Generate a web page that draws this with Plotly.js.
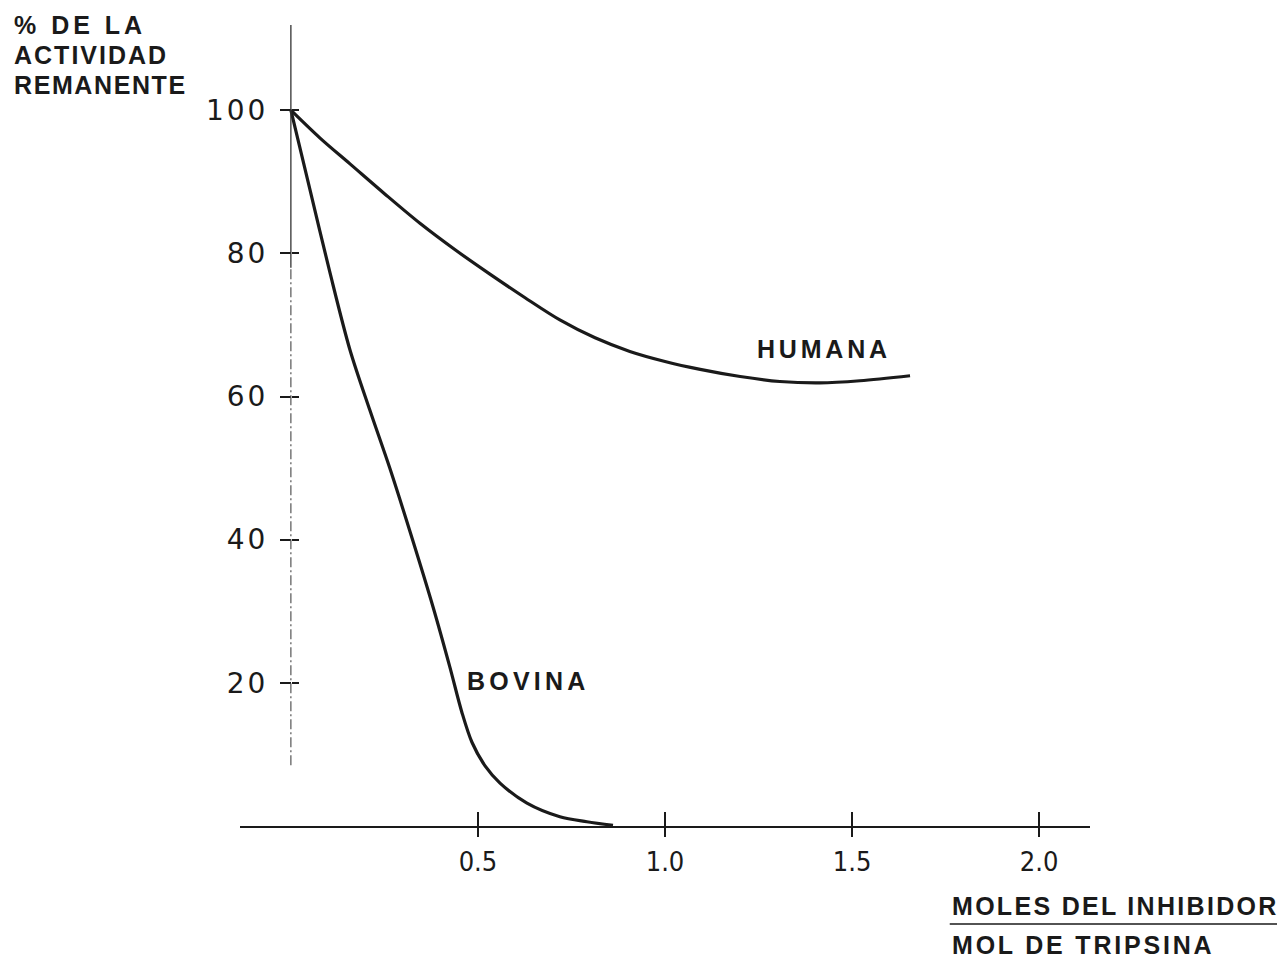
<!DOCTYPE html>
<html>
<head>
<meta charset="utf-8">
<script src="https://cdn.plot.ly/plotly-3.0.1.min.js"></script>
<style>
  html, body { margin: 0; padding: 0; background: #fff; }
  #chart { width: 1279px; height: 961px; }
  .ytick text { letter-spacing: 3px; }
</style>
</head>
<body>
<div id="chart"></div>
<script>
// Data
const humanaX = [0, 0.078, 0.158, 0.251, 0.345, 0.439, 0.532, 0.626, 0.719, 0.813, 0.906, 1.000, 1.094, 1.201, 1.307, 1.414, 1.521, 1.655];
const humanaY = [100, 96.1, 92.5, 88.3, 84.2, 80.5, 77.1, 73.8, 70.7, 68.2, 66.3, 64.9, 63.8, 62.8, 62.1, 61.9, 62.2, 62.9];

const bovinaX = [0, 0.051, 0.104, 0.158, 0.211, 0.265, 0.324, 0.380, 0.425, 0.457, 0.484, 0.519, 0.559, 0.631, 0.719, 0.791, 0.861];
const bovinaY = [100, 88.9, 77.4, 66.5, 58.1, 49.9, 40.2, 30.6, 22.2, 15.9, 11.7, 8.4, 6.0, 3.2, 1.3, 0.6, 0.1];

const xTickVals = [0.5, 1.0, 1.5, 2.0];
const xTickText = ["0.5", "1.0", "1.5", "2.0"];
const yTickVals = [20, 40, 60, 80, 100];
const yTickText = ["20", "40", "60", "80", "100"];

const seriesNames = ["HUMANA", "BOVINA"];
const yTitleLines = ["% DE LA", "ACTIVIDAD", "REMANENTE"];
const xTitleNum = "MOLES DEL INHIBIDOR";
const xTitleDen = "MOL DE TRIPSINA";

const ink = "#1a1a1a";
const xRange = [-0.136, 2.136];
const yRange = [0, 111.9];

function spaced(t, px) {
  return '<span style="letter-spacing:' + px + 'px">' + t + '</span>';
}

const traces = [
  { x: humanaX, y: humanaY, type: "scatter", mode: "lines", name: seriesNames[0],
    line: { color: ink, width: 3.2, shape: "spline", smoothing: 0.9 }, hoverinfo: "skip" },
  { x: bovinaX, y: bovinaY, type: "scatter", mode: "lines", name: seriesNames[1],
    line: { color: ink, width: 3.2, shape: "spline", smoothing: 0.9 }, hoverinfo: "skip" },
  { x: [], y: [], type: "scatter", mode: "lines", xaxis: "x2", yaxis: "y2", showlegend: false, hoverinfo: "skip" }
];

const labelFont = { family: "Liberation Sans, Arial, sans-serif", size: 25, color: ink, weight: "bold" };

const annotations = [
  { text: spaced(yTitleLines[0], 4), x: -0.268, y: 1.0 },
  { text: spaced(yTitleLines[1], 2), x: -0.268, y: 0.9625 },
  { text: spaced(yTitleLines[2], 1.6), x: -0.268, y: 0.925 },
  { text: spaced(seriesNames[0], 3.8), x: 0.606, y: 0.5955 },
  { text: spaced(seriesNames[1], 4.2), x: 0.2647, y: 0.181 },
  { text: spaced(xTitleNum, 2.3), x: 0.835, y: -0.0999 },
  { text: spaced(xTitleDen, 2.8), x: 0.835, y: -0.1486 }
].map(a => Object.assign({
  xref: "paper", yref: "paper", xanchor: "left", yanchor: "middle",
  showarrow: false, font: labelFont
}, a));

const layout = {
  width: 1279, height: 961,
  margin: { l: 240, r: 189, t: 25, b: 135 },
  paper_bgcolor: "#fff", plot_bgcolor: "#fff",
  showlegend: false,
  xaxis: {
    range: xRange, showgrid: false, zeroline: false,
    showline: true, linecolor: ink, linewidth: 1.5,
    tickmode: "array", tickvals: xTickVals, ticktext: xTickText,
    ticks: "outside", ticklen: 9, tickwidth: 2, tickcolor: ink,
    ticklabelstandoff: 2,
    tickfont: { family: "DejaVu Sans Condensed, DejaVu Sans, sans-serif", size: 27, color: ink }
  },
  xaxis2: {
    range: xRange, overlaying: "x", anchor: "y", side: "bottom",
    showgrid: false, zeroline: false, showline: false, showticklabels: false,
    tickmode: "array", tickvals: xTickVals,
    ticks: "inside", ticklen: 14, tickwidth: 2, tickcolor: ink
  },
  yaxis: {
    range: yRange, showgrid: false, zeroline: false, showline: false,
    anchor: "free", position: 0.06,
    tickmode: "array", tickvals: yTickVals, ticktext: yTickText,
    ticks: "outside", ticklen: 11, tickwidth: 2, tickcolor: ink,
    ticklabelstandoff: 6,
    tickfont: { family: "DejaVu Sans, sans-serif", size: 28, color: ink }
  },
  yaxis2: {
    range: yRange, overlaying: "y", anchor: "free", position: 0.06,
    showgrid: false, zeroline: false, showline: false, showticklabels: false,
    tickmode: "array", tickvals: yTickVals,
    ticks: "inside", ticklen: 7, tickwidth: 2, tickcolor: ink
  },
  shapes: [
    { type: "line", xref: "x", yref: "y", x0: 0, x1: 0, y0: 78, y1: 111.9,
      line: { color: "#333", width: 1.3 } },
    { type: "line", xref: "x", yref: "y", x0: 0, x1: 0, y0: 8.5, y1: 78,
      line: { color: "#555", width: 1.2, dash: "10px,3px,2px,3px" } },
    { type: "line", xref: "paper", yref: "paper", x0: 0.835, x1: 1.22, y0: -0.1223, y1: -0.1223,
      line: { color: ink, width: 1.5 } }
  ],
  annotations: annotations
};

Plotly.newPlot("chart", traces, layout, { staticPlot: true, displayModeBar: false });
</script>
</body>
</html>
